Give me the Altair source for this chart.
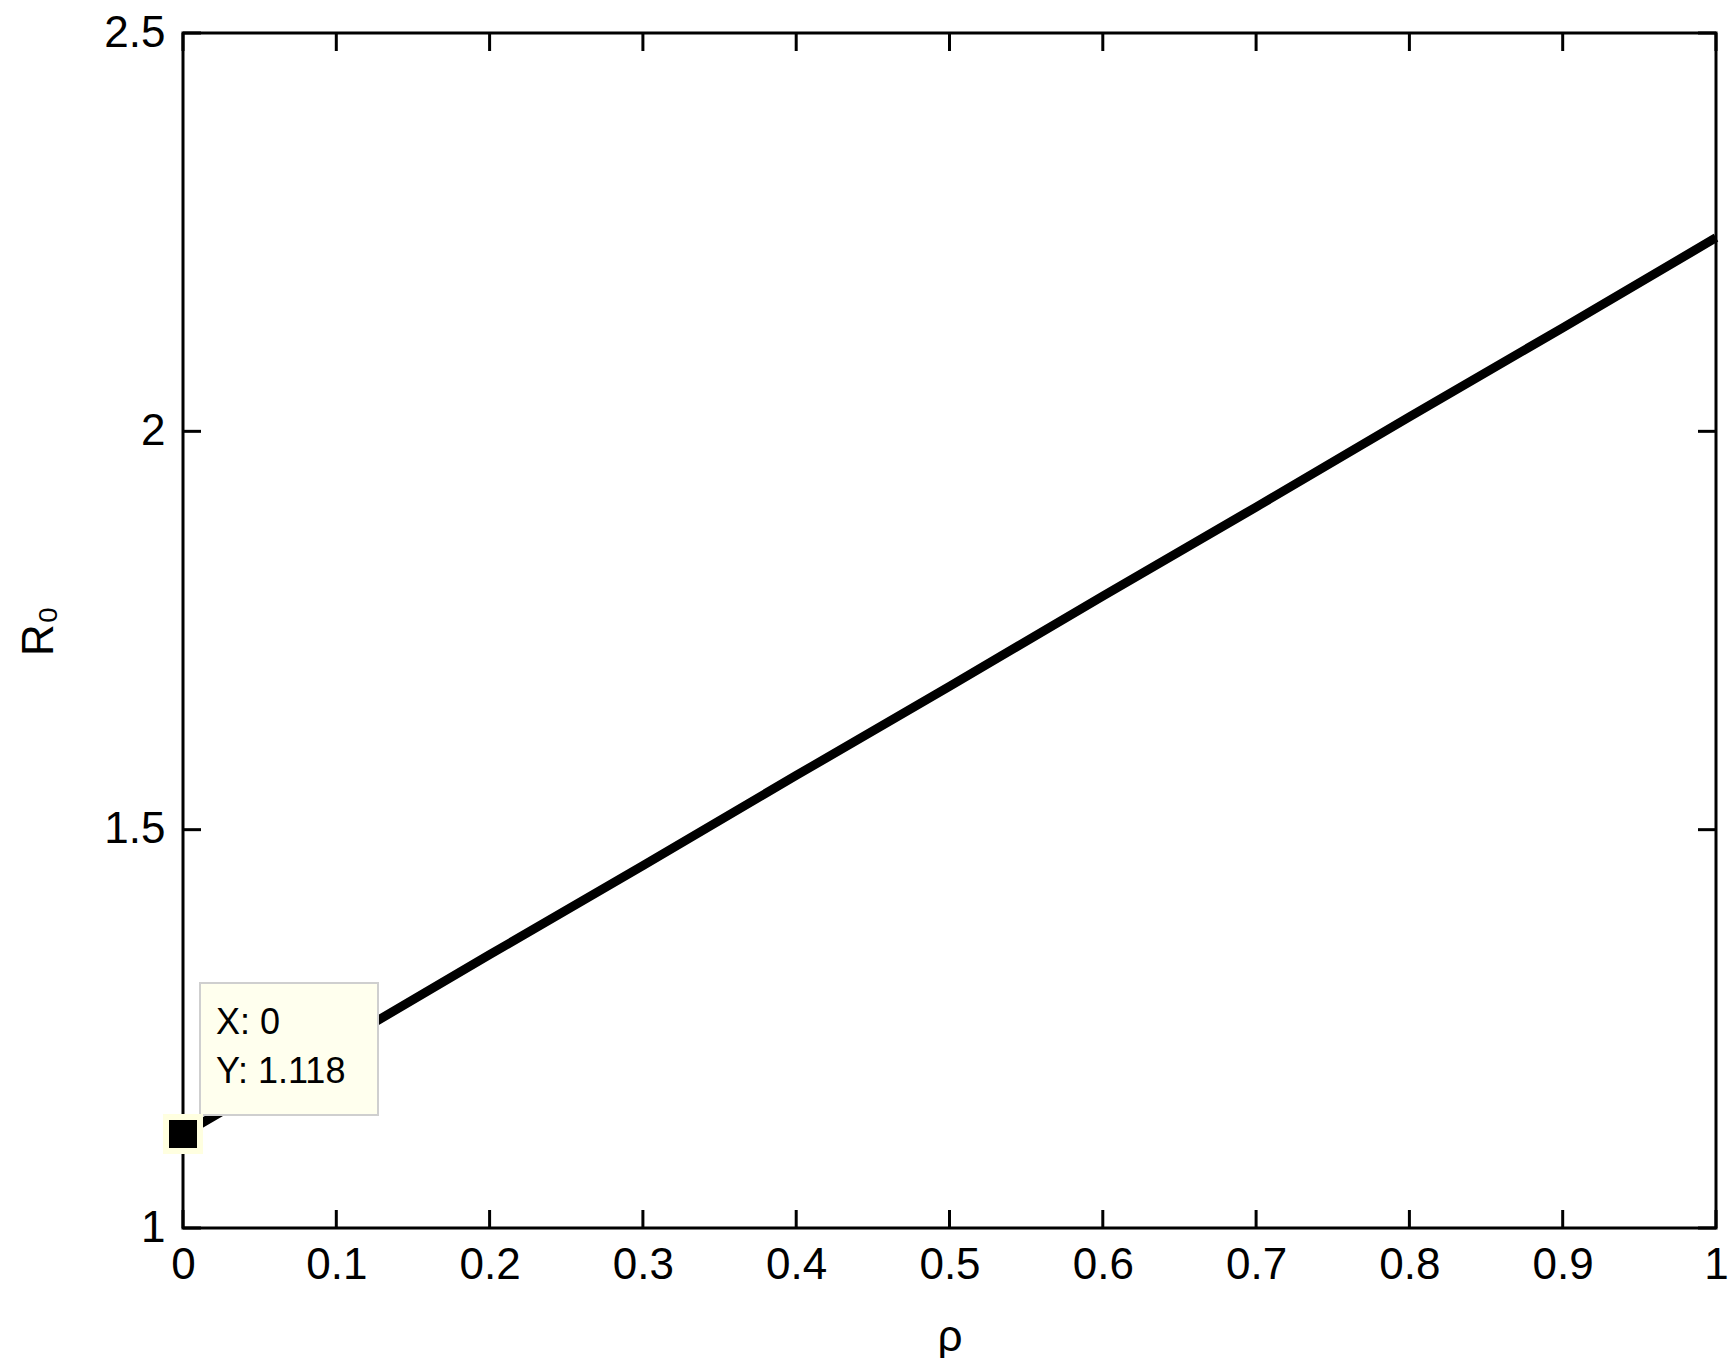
import altair as alt
import pandas as pd

# ---- data ----
rho = [0.0, 0.1, 0.2, 0.3, 0.4, 0.5, 0.6, 0.7, 0.8, 0.9, 1.0]
r0 = [1.118, 1.230, 1.343, 1.455, 1.568, 1.680, 1.793, 1.905, 2.018, 2.130, 2.243]

x_ticks = [0, 0.1, 0.2, 0.3, 0.4, 0.5, 0.6, 0.7, 0.8, 0.9, 1]
x_tick_labels = ["0", "0.1", "0.2", "0.3", "0.4", "0.5", "0.6", "0.7", "0.8", "0.9", "1"]
y_ticks = [1, 1.5, 2, 2.5]
y_tick_labels = ["1", "1.5", "2", "2.5"]

marked_x = [0.0]
marked_y = [1.118]
tip_lines = ["X: 0", "Y: 1.118"]

# ---- layout constants ----
W, H = 1533, 1195
FONT = "Liberation Sans"
FS = 44
TICK = 18

x_dom = [0, 1]
y_dom = [1, 2.5]
xs = alt.Scale(domain=x_dom, nice=False, zero=False)
ys = alt.Scale(domain=y_dom, nice=False, zero=False)


def label_expr(vals, labels):
    v = "[" + ",".join(repr(x) for x in vals) + "]"
    l = "[" + ",".join("'" + s + "'" for s in labels) + "]"
    return f"{l}[indexof({v}, datum.value)]"


curve = pd.DataFrame({"rho": rho, "r0": r0})

line = alt.Chart(curve).mark_line(color="black", strokeWidth=9).encode(
    x=alt.X("rho:Q", scale=xs, title="ρ",
            axis=alt.Axis(values=x_ticks, labelExpr=label_expr(x_ticks, x_tick_labels),
                          tickSize=0, domain=False, grid=False, labelPadding=15,
                          labelFontSize=FS, labelFont=FONT, labelColor="black",
                          titleFont=FONT, titleFontSize=FS, titleFontWeight="normal",
                          titleColor="black", titlePadding=28, labelFlush=False)),
    y=alt.Y("r0:Q", scale=ys, title="R₀",
            axis=alt.Axis(values=y_ticks, labelExpr=label_expr(y_ticks, y_tick_labels),
                          tickSize=0, domain=False, grid=False, labelPadding=18,
                          labelFontSize=FS, labelFont=FONT, labelColor="black",
                          titleFont=FONT, titleFontSize=FS, titleFontWeight="normal",
                          titleColor="black", titlePadding=42, labelFlush=False)),
)

xt = pd.DataFrame({"v": x_ticks})
yt = pd.DataFrame({"v": y_ticks})
tick_style = dict(color="black", strokeWidth=3)

ticks_bottom = alt.Chart(xt).mark_rule(**tick_style).encode(
    x=alt.X("v:Q", scale=xs), y=alt.value(H), y2=alt.value(H - TICK))
ticks_top = alt.Chart(xt).mark_rule(**tick_style).encode(
    x=alt.X("v:Q", scale=xs), y=alt.value(0), y2=alt.value(TICK))
ticks_left = alt.Chart(yt).mark_rule(**tick_style).encode(
    y=alt.Y("v:Q", scale=ys), x=alt.value(0), x2=alt.value(TICK))
ticks_right = alt.Chart(yt).mark_rule(**tick_style).encode(
    y=alt.Y("v:Q", scale=ys), x=alt.value(W), x2=alt.value(W - TICK))

# data tip box (annotation position)
box = pd.DataFrame({"x1": [0.0111], "x2": [0.1272], "y1": [1.1418], "y2": [1.3075]})
tip_box = alt.Chart(box).mark_rect(fill="#FFFFEE", stroke="#CFCFCF", strokeWidth=2).encode(
    x=alt.X("x1:Q", scale=xs), x2="x2:Q", y=alt.Y("y1:Q", scale=ys), y2="y2:Q")

tip_txt = pd.DataFrame({"t": tip_lines, "x": [0.0215, 0.0215], "y": [1.257, 1.196]})
tip_text = alt.Chart(tip_txt).mark_text(align="left", baseline="middle", font=FONT,
                                         fontSize=36, color="black").encode(
    x=alt.X("x:Q", scale=xs), y=alt.Y("y:Q", scale=ys), text="t:N")

mk = pd.DataFrame({"x": marked_x, "y": marked_y})
marker = alt.Chart(mk).mark_square(size=34 * 34, fill="black", stroke="#FFFFE0",
                                   strokeWidth=6, opacity=1, fillOpacity=1).encode(
    x=alt.X("x:Q", scale=xs), y=alt.Y("y:Q", scale=ys))

chart = alt.layer(line, ticks_bottom, ticks_top, ticks_left, ticks_right,
                  tip_box, tip_text, marker).properties(
    width=W, height=H,
    autosize=alt.AutoSizeParams(type="none"),
    padding={"left": 175, "top": 25, "right": 12, "bottom": 130},
).configure(background="white").configure_view(stroke="black", strokeWidth=3)

chart.save("out.html", embed_options={"renderer": "svg", "actions": False})
